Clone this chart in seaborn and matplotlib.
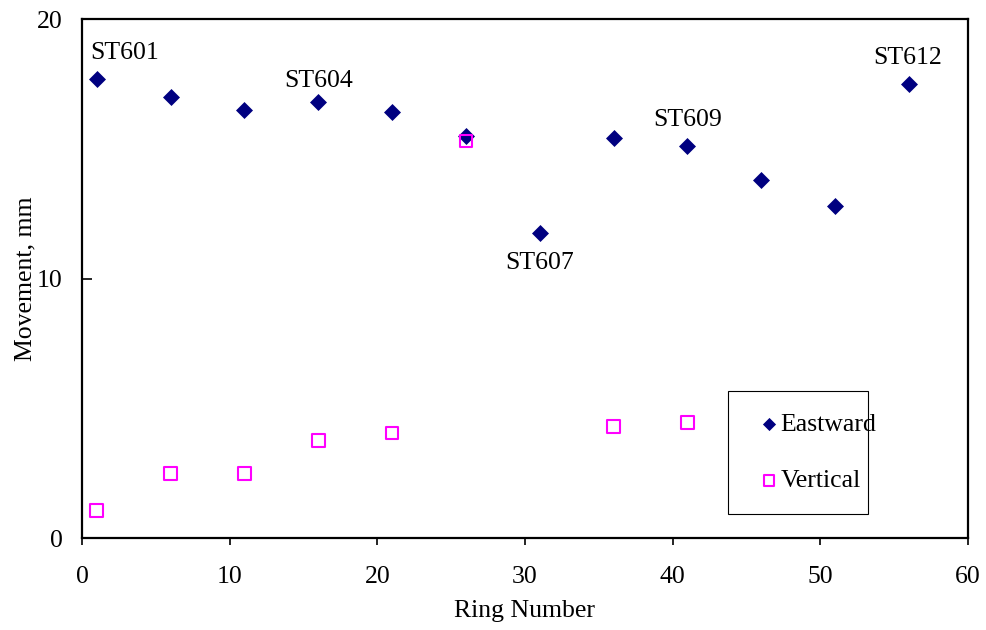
import matplotlib
matplotlib.use("Agg")
import matplotlib.pyplot as plt
import seaborn as sns
import pandas as pd

ring_east = [1, 6, 11, 16, 21, 26, 31, 36, 41, 46, 51, 56]
eastward = [17.7, 17.0, 16.5, 16.8, 16.4, 15.5, 11.75, 15.4, 15.1, 13.8, 12.8, 17.5]
ring_vert = [1, 6, 11, 16, 21, 26, 36, 41]
vertical = [1.05, 2.5, 2.5, 3.75, 4.05, 15.3, 4.3, 4.45]
station_labels = ["ST601", "ST604", "ST607", "ST609", "ST612"]
station_label_pos = [(2.9, 18.7), (16.0, 17.6), (31.0, 10.6), (41.0, 16.1), (55.9, 18.5)]
x_ticks = [0, 10, 20, 30, 40, 50, 60]
y_ticks = [0, 10, 20]

FS = 18.5
sns.set_style("white")
plt.rcParams["font.family"] = ["Liberation Serif", "DejaVu Serif"]
plt.rcParams["font.size"] = FS
plt.rcParams["text.color"] = "black"
plt.rcParams["axes.labelcolor"] = "black"
plt.rcParams["xtick.color"] = "black"
plt.rcParams["ytick.color"] = "black"

df_e = pd.DataFrame({"ring": ring_east, "mv": eastward})
df_v = pd.DataFrame({"ring": ring_vert, "mv": vertical})

fig = plt.figure(figsize=(9.87, 6.3), dpi=100)
ax = fig.add_axes([0.0831, 0.146, 0.8976, 0.8238])

sns.scatterplot(data=df_e, x="ring", y="mv", ax=ax, marker="D", color="#000080",
                s=75, linewidth=0, label="Eastward", zorder=3)
sns.scatterplot(data=df_v, x="ring", y="mv", ax=ax, marker="s", facecolors="none",
                edgecolor="#FF00FF", s=85, linewidth=1.5, label="Vertical", zorder=4)

for lab, (lx, ly) in zip(station_labels, station_label_pos):
    ax.text(lx, ly, lab, ha="center", va="center", fontsize=FS, color="black")

ax.set_xlim(0, 60)
ax.set_ylim(0, 20)
ax.set_xticks(x_ticks)
ax.set_yticks(y_ticks)
ax.tick_params(axis="x", bottom=True, direction="out", length=5, width=1.2,
               labelsize=FS, pad=15, colors="black")
ax.tick_params(axis="y", left=True, direction="in", length=7, width=1.2,
               labelsize=FS, pad=14, colors="black")
ax.set_xlabel("Ring Number", fontsize=FS, labelpad=9)
ax.set_ylabel("Movement, mm", fontsize=FS, labelpad=0)
for sp in ax.spines.values():
    sp.set_visible(True)
    sp.set_color("black")
    sp.set_linewidth(1.6)

leg = ax.legend(loc="lower left", bbox_to_anchor=(0.729, 0.046, 0.158, 0.237), mode="expand",
                frameon=True, fancybox=False, edgecolor="black", framealpha=1,
                borderpad=0.85, labelspacing=1.3, handletextpad=-0.3, handlelength=1.5,
                fontsize=FS, borderaxespad=0)
leg.get_frame().set_linewidth(0.8)
leg.legend_handles[0].set_sizes([45])
leg.legend_handles[1].set_sizes([60])
for t in leg.get_texts():
    t.set_color("black")

fig.savefig("out.png", dpi=100)
